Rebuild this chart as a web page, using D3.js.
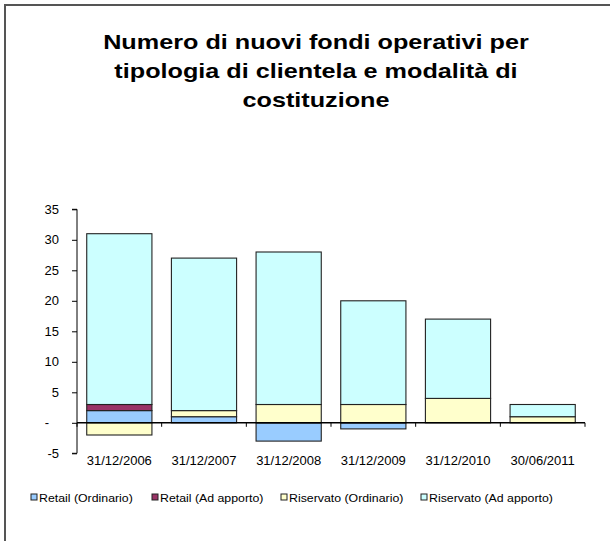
<!DOCTYPE html>
<html><head><meta charset="utf-8">
<script src="https://cdn.jsdelivr.net/npm/d3@7"></script>
<style>body{margin:0;background:#fff}svg{display:block}</style>
</head><body><svg id="c" width="610" height="541"></svg>
<script>
const categories = ["31/12/2006","31/12/2007","31/12/2008","31/12/2009","31/12/2010","30/06/2011"];
const seriesNames = ["Retail (Ordinario)","Retail (Ad apporto)","Riservato (Ordinario)","Riservato (Ad apporto)"];
const retailOrdinario   = [2, 1, -3, -1, 0, 0];
const retailAdApporto   = [1, 0, 0, 0, 0, 0];
const riservatoOrdinario= [-2, 1, 3, 3, 4, 1];
const riservatoAdApporto= [28, 25, 25, 17, 13, 2];
const seriesColors = ["#99CCFF","#993366","#FFFFCC","#CCFFFF"];
const yTicks = [-5,0,5,10,15,20,25,30,35];
const titleLines = ["Numero di nuovi fondi operativi per","tipologia di clientela e modalità di","costituzione"];

const seriesValues = [retailOrdinario, retailAdApporto, riservatoOrdinario, riservatoAdApporto];
const table = categories.map((c,i)=>{const o={cat:c}; seriesNames.forEach((s,j)=>o[s]=seriesValues[j][i]); return o;});

const svg = d3.select("#c");
const font = "Liberation Sans, Arial, sans-serif";
svg.append("rect").attr("x",5).attr("y",5).attr("width",640).attr("height",600)
  .attr("fill","#fff").attr("stroke","#555").attr("stroke-width",2);

const stretch = 1.2;
titleLines.forEach((t,i)=>{
  const tx = svg.append("text").attr("font-family",font).attr("font-weight","bold")
    .attr("font-size",21).attr("text-anchor","middle").attr("fill","#000")
    .attr("x",316).attr("y",48.5+i*29).text(t);
  const L = tx.node().getComputedTextLength();
  tx.attr("textLength",L*stretch).attr("lengthAdjust","spacingAndGlyphs");
});

const x = d3.scaleBand().domain(categories).range([77,585]).paddingInner(0.23).paddingOuter(0.115);
const y = d3.scaleLinear().domain([-5,35]).range([453.3,209.3]);

const stack = d3.stack().keys(seriesNames).offset(d3.stackOffsetDiverging);
const stacked = stack(table);

const g = svg.append("g");
stacked.forEach((layer,j)=>{
  g.selectAll(null).data(layer.filter(d=>d[1]!==d[0])).enter().append("rect")
    .attr("x",d=>x(d.data.cat)).attr("width",x.bandwidth())
    .attr("y",d=>y(Math.max(d[0],d[1]))).attr("height",d=>Math.abs(y(d[0])-y(d[1])))
    .attr("fill",seriesColors[j]).attr("stroke","#222").attr("stroke-width",1.1);
});

// y axis
const yAxis = d3.axisLeft(y).tickValues(yTicks).tickSize(5).tickPadding(13)
  .tickFormat(d=>d===0?"-":String(d));
const ya = svg.append("g").attr("transform","translate(77,0)").call(yAxis);
ya.selectAll("text").attr("font-family",font).attr("font-size",13).attr("fill","#000")
  .attr("dx",d=>d===0?-10:0);
ya.selectAll("line").attr("stroke","#000");
ya.select(".domain").attr("stroke","#000").attr("d","M-5,"+y(-5)+"H0V"+y(35)+"H-5");

// x axis at zero
const xg = svg.append("g").attr("transform","translate(0,"+y(0)+")");
xg.append("line").attr("x1",77).attr("x2",585).attr("y1",0).attr("y2",0).attr("stroke","#000").attr("stroke-width",1.5);
const bounds = categories.map(c=>x(c)-x.step()*x.paddingInner()/2).concat([585]);
xg.selectAll(null).data(bounds).enter().append("line")
  .attr("x1",d=>d).attr("x2",d=>d).attr("y1",0).attr("y2",4).attr("stroke","#000");
svg.selectAll(null).data(categories).enter().append("text")
  .attr("x",d=>x(d)+x.bandwidth()/2).attr("y",465).attr("text-anchor","middle")
  .attr("font-family",font).attr("font-size",13).attr("fill","#000").text(d=>d);

// legend
const legX = [31,152,281,421];
const lg = svg.append("g");
seriesNames.forEach((s,j)=>{
  lg.append("rect").attr("x",legX[j]).attr("y",494).attr("width",6).attr("height",6)
    .attr("fill",seriesColors[j]).attr("stroke","#222").attr("stroke-width",1);
  const t = lg.append("text").attr("x",legX[j]+8).attr("y",501.5).attr("font-family",font)
    .attr("font-size",11).attr("fill","#000").text(s);
  const L = t.node().getComputedTextLength();
  t.attr("textLength",L*1.12).attr("lengthAdjust","spacingAndGlyphs");
});
</script></body></html>
